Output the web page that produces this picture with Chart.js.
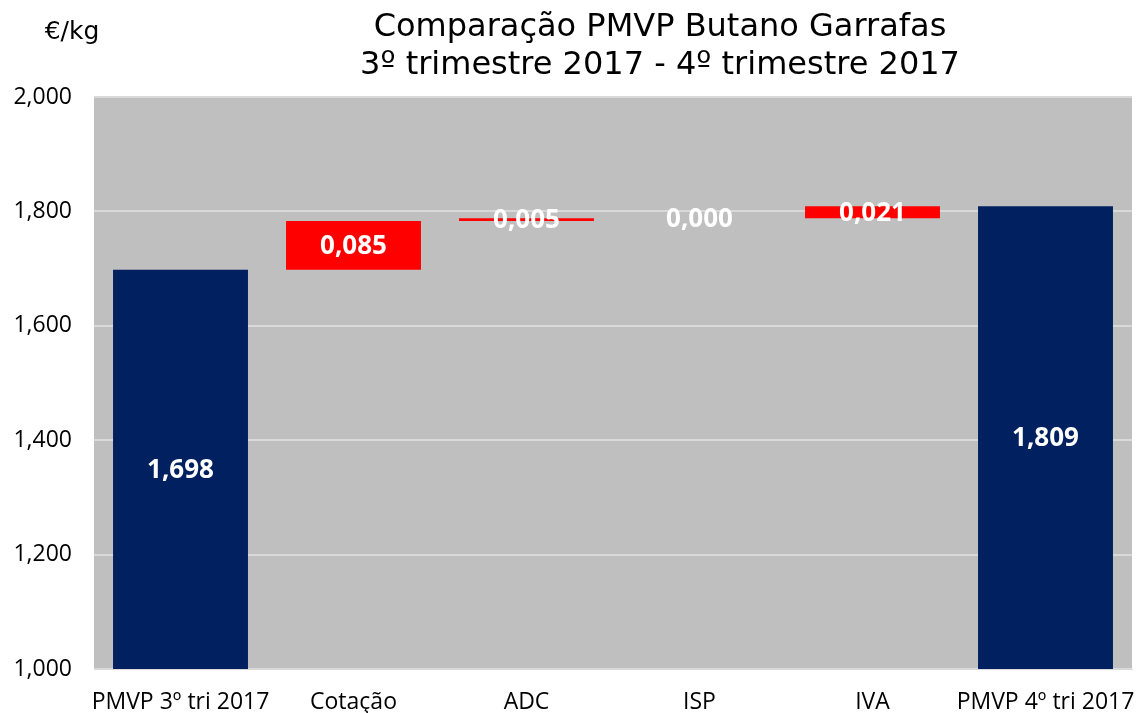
<!DOCTYPE html>
<html>
<head>
<meta charset="utf-8">
<script src="https://cdn.jsdelivr.net/npm/chart.js@4.4.1/dist/chart.umd.min.js"></script>
<style>
  html, body { margin: 0; padding: 0; background: #ffffff; }
  #wrap { width: 1139px; height: 713px; position: relative; }
</style>
</head>
<body>
<div id="wrap"><canvas id="c" width="1139" height="713"></canvas></div>
<script>
const categories = ['PMVP 3º tri 2017', 'Cotação', 'ADC', 'ISP', 'IVA', 'PMVP 4º tri 2017'];
const startValue = 1.698;
const changes = [0.085, 0.005, 0.000, 0.021];
const endValue = 1.809;
const yTicks = [1.0, 1.2, 1.4, 1.6, 1.8, 2.0];
const titleLines = ['Comparação PMVP Butano Garrafas', '3º trimestre 2017 - 4º trimestre 2017'];
const unitLabel = '€/kg';

const AXIS_MIN = 1.0, AXIS_MAX = 2.0;
const NAVY = '#002060', RED = '#FF0000';

// Build floating ranges
const ranges = [];
const labelsVal = [];
ranges.push([AXIS_MIN, startValue]);
labelsVal.push(startValue);
let cum = startValue;
changes.forEach(d => { ranges.push([cum, cum + d]); labelsVal.push(d); cum += d; });
ranges.push([AXIS_MIN, endValue]);
labelsVal.push(endValue);
const colors = categories.map((c, i) => (i === 0 || i === categories.length - 1) ? NAVY : RED);

const fmt = v => v.toFixed(3).replace('.', ',');
const fmtTick = v => v.toFixed(3).replace('.', ',');

const FONT = "'Open Sans', 'DejaVu Sans', sans-serif";
const TFONT = "'DejaVu Sans', 'Open Sans', sans-serif";
const LBLFONT = "'Open Sans', 'Liberation Sans', sans-serif";

const bgPlugin = {
  id: 'bg',
  beforeDraw(chart) {
    const { ctx, chartArea: a } = chart;
    ctx.save();
    ctx.fillStyle = '#BFBFBF';
    ctx.fillRect(a.left, a.top, a.right - a.left, a.bottom - a.top);
    ctx.restore();
  }
};

const textPlugin = {
  id: 'texts',
  afterDatasetsDraw(chart) {
    const { ctx } = chart;
    const meta = chart.getDatasetMeta(0);
    const y = chart.scales.y;
    ctx.save();
    ctx.fillStyle = '#ffffff';
    ctx.font = "bold 26px " + LBLFONT;
    ctx.textAlign = 'center';
    ctx.textBaseline = 'middle';
    meta.data.forEach((bar, i) => {
      const r = ranges[i];
      const mid = y.getPixelForValue((r[0] + r[1]) / 2);
      ctx.fillText(fmt(labelsVal[i]), bar.x, mid + 1);
    });
    ctx.restore();
  },
  afterDraw(chart) {
    const { ctx } = chart;
    ctx.save();
    ctx.fillStyle = '#000000';
    ctx.textAlign = 'center';
    ctx.textBaseline = 'middle';
    ctx.font = "32px " + TFONT;
    ctx.fillText(titleLines[0], 660, 28);
    ctx.fillText(titleLines[1], 660, 66);
    ctx.font = "25px " + TFONT;
    ctx.fillText(unitLabel, 72, 32);
    ctx.restore();
  }
};

new Chart(document.getElementById('c'), {
  type: 'bar',
  data: {
    labels: categories,
    datasets: [{
      data: ranges,
      backgroundColor: colors,
      borderWidth: 0,
      borderSkipped: false,
      barPercentage: 0.78,
      categoryPercentage: 1.0
    }]
  },
  options: {
    responsive: false,
    animation: false,
    layout: { padding: { left: 0, top: 97, right: 7, bottom: 0 } },
    plugins: {
      legend: { display: false },
      tooltip: { enabled: false },
      title: { display: false }
    },
    scales: {
      x: {
        grid: { display: false },
        border: { display: true, color: '#D9D9D9', width: 1 },
        ticks: { color: '#000', font: { family: FONT, size: 23 }, padding: 12, maxRotation: 0, autoSkip: false },
        afterFit(s) { s.height = 44; s.paddingLeft = 0; s.paddingRight = 0; }
      },
      y: {
        min: AXIS_MIN, max: AXIS_MAX,
        afterBuildTicks(s) { s.ticks = yTicks.map(v => ({ value: v })); },
        grid: { color: '#D9D9D9', lineWidth: 2, drawTicks: false },
        border: { display: false },
        ticks: { color: '#000', font: { family: FONT, size: 23 }, padding: 22, callback: v => fmtTick(v) },
        afterFit(s) { s.width = 94; s.paddingTop = 0; s.paddingBottom = 0; }
      }
    }
  },
  plugins: [bgPlugin, textPlugin]
});
</script>
</body>
</html>
